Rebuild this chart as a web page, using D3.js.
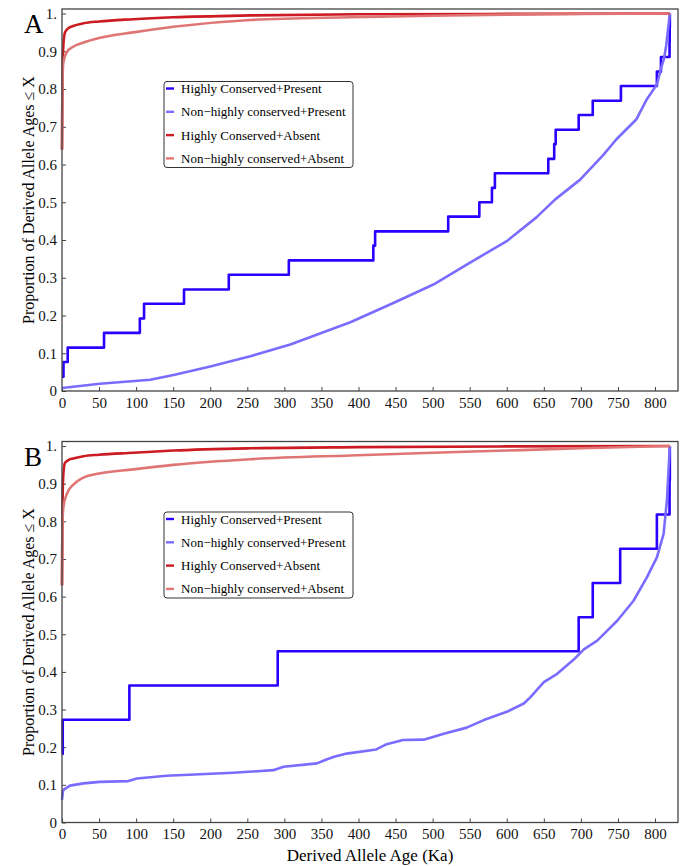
<!DOCTYPE html>
<html>
<head>
<meta charset="utf-8">
<script src="https://d3js.org/d3.v7.min.js"></script>
<style>
  body { margin: 0; background: #fff; }
  svg { font-family: "Liberation Serif", "Times New Roman", serif; }
</style>
</head>
<body>
<svg id="drawing_region"></svg>
<script>
// ---- data ----
const seriesNames = ["Highly Conserved+Present", "Non\u2212highly conserved+Present",
                     "Highly Conserved+Absent", "Non\u2212highly conserved+Absent"];
const xTicks = [0, 50, 100, 150, 200, 250, 300, 350, 400, 450, 500, 550, 600, 650, 700, 750, 800];
const yTicks = [0, 0.1, 0.2, 0.3, 0.4, 0.5, 0.6, 0.7, 0.8, 0.9, 1.0];

// panel A
const hcPresentA_x = [0, 2, 7.7, 56.7, 105, 110.7, 164.6, 225, 306, 420, 422.4, 521, 563, 580, 584,
                      656, 664, 666, 697, 716, 754, 802.5, 808, 819.6, 819.8, 820];
const hcPresentA_y = [0.038, 0.077, 0.115, 0.154, 0.192, 0.231, 0.269, 0.308, 0.346, 0.385, 0.423,
                      0.462, 0.5, 0.538, 0.577, 0.615, 0.654, 0.692, 0.731, 0.769, 0.808, 0.846,
                      0.885, 0.923, 0.962, 1.0];
const nhPresentA_x = [0, 51, 119, 152, 200, 254, 308, 389, 447, 501, 546, 600, 640, 665, 699, 730,
                      748, 775, 789, 802.5, 809, 812, 815, 820];
const nhPresentA_y = [0.008, 0.019, 0.030, 0.043, 0.065, 0.092, 0.123, 0.182, 0.233, 0.282, 0.335,
                      0.397, 0.46, 0.507, 0.56, 0.625, 0.667, 0.72, 0.773, 0.812, 0.861, 0.879,
                      0.914, 1.0];
const hcAbsentA_x = [0, 0.5, 1, 2, 4, 8, 15, 29, 50, 96, 150, 254, 400, 600, 820];
const hcAbsentA_y = [0.64, 0.8, 0.87, 0.92, 0.95, 0.96, 0.967, 0.974, 0.979, 0.985, 0.99, 0.995,
                     0.998, 0.999, 1.0];
const nhAbsentA_x = [0, 0.5, 1.8, 6.3, 15, 29, 50, 96, 150, 254, 389, 500, 600, 700, 820];
const nhAbsentA_y = [0.64, 0.8, 0.87, 0.897, 0.912, 0.923, 0.935, 0.95, 0.965, 0.983, 0.99, 0.994,
                     0.997, 0.999, 1.0];

// panel B
const hcPresentB_x = [0, 1, 90.9, 291, 697, 716, 753, 802.5, 819.6, 820];
const hcPresentB_y = [0.182, 0.273, 0.364, 0.455, 0.545, 0.636, 0.727, 0.818, 0.909, 1.0];
const nhPresentB_x = [0, 1.5, 10.8, 29, 51, 89.5, 101, 141, 186, 231, 285, 299, 344, 355, 366, 384,
                      424, 438, 460, 488, 515, 546, 569, 600, 623, 632, 650, 668, 690, 704, 722,
                      749, 771, 789, 802.5, 811.5, 816, 820];
const nhPresentB_y = [0.06, 0.086, 0.098, 0.104, 0.108, 0.11, 0.117, 0.124, 0.128, 0.132, 0.139,
                      0.148, 0.157, 0.166, 0.174, 0.183, 0.194, 0.208, 0.219, 0.22, 0.236, 0.252,
                      0.272, 0.294, 0.316, 0.333, 0.373, 0.395, 0.432, 0.46, 0.483, 0.536, 0.589,
                      0.651, 0.704, 0.766, 0.854, 1.0];
const hcAbsentB_x = [0, 0.5, 1, 2, 4, 8, 15, 29, 50, 96, 150, 254, 400, 600, 820];
const hcAbsentB_y = [0.63, 0.8, 0.88, 0.93, 0.955, 0.962, 0.967, 0.973, 0.977, 0.982, 0.988, 0.994,
                     0.997, 0.999, 1.0];
const nhAbsentB_x = [0, 0.5, 1.8, 6.3, 15, 29, 50, 96, 150, 254, 389, 500, 600, 700, 820];
const nhAbsentB_y = [0.63, 0.78, 0.837, 0.872, 0.897, 0.916, 0.927, 0.938, 0.95, 0.965, 0.975,
                     0.982, 0.988, 0.994, 1.0];

const colors = ["#2a00ff", "#7a6cff", "#cc1b22", "#e07575"];

function zip(xs, ys) {
    return xs.map((x, i) => ({ x: x, y: ys[i] }));
}

const svg = d3.select('#drawing_region')
    .attr('width', 685)
    .attr('height', 866);

class CdfPanel {
    constructor(config, series) {
        this.config = config;
        this.series = series;
        this.init();
    }

    init() {
        let self = this;
        const c = self.config;

        self.xscale = d3.scaleLinear()
            .domain([0, 831])
            .range([c.left, c.right]);
        self.yscale = d3.scaleLinear()
            .domain([0, 1.012])
            .range([c.bottom, c.top]);

        self.g = svg.append('g');
    }

    render() {
        let self = this;
        const c = self.config;

        // axes, ticks point inward
        const xaxis = d3.axisBottom(self.xscale)
            .tickValues(xTicks)
            .tickSizeInner(-4)
            .tickSizeOuter(0)
            .tickPadding(6)
            .tickFormat(d3.format('d'));
        const yaxis = d3.axisLeft(self.yscale)
            .tickValues(yTicks)
            .tickSizeInner(-4)
            .tickSizeOuter(0)
            .tickPadding(5)
            .tickFormat(d => d === 0 ? '0' : (d === 1 ? '1.' : d3.format('.1f')(d)));

        const xg = self.g.append('g')
            .attr('transform', `translate(0, ${c.bottom})`)
            .call(xaxis);
        const yg = self.g.append('g')
            .attr('transform', `translate(${c.left}, 0)`)
            .call(yaxis);
        [xg, yg].forEach(g => {
            g.select('.domain').remove();
            g.selectAll('text').attr('font-size', 15).attr('fill', '#111')
                .attr('font-family', '"Liberation Serif", serif');
            g.selectAll('line').attr('stroke', '#444');
        });

        // lines
        self.g.append('g')
            .selectAll('path')
            .data(self.series)
            .join('path')
            .attr('fill', 'none')
            .attr('stroke', (d, i) => colors[i])
            .attr('stroke-width', 2.6)
            .attr('stroke-linejoin', 'round')
            .attr('d', (d, i) => {
                const line = d3.line()
                    .x(p => self.xscale(p.x))
                    .y(p => self.yscale(p.y))
                    .curve(i === 0 ? d3.curveStepAfter : (i === 1 ? d3.curveLinear : d3.curveMonotoneX));
                return line(d);
            });

        // frame
        self.g.append('rect')
            .attr('x', c.left)
            .attr('y', c.top)
            .attr('width', c.right - c.left)
            .attr('height', c.bottom - c.top)
            .attr('fill', 'none')
            .attr('stroke', '#444')
            .attr('stroke-width', 1.3);

        // panel letter
        self.g.append('text')
            .attr('x', 24)
            .attr('y', c.top + 24)
            .attr('font-size', 27)
            .text(c.letter);

        // y label
        self.g.append('text')
            .attr('transform', `translate(34, ${(c.top + c.bottom) / 2}) rotate(-90)`)
            .attr('text-anchor', 'middle')
            .attr('font-size', 16)
            .text('Proportion of Derived Allele Ages \u2264 X');

        // legend
        const lg = self.g.append('g');
        lg.append('rect')
            .attr('x', 164)
            .attr('y', c.legendTop)
            .attr('width', 189)
            .attr('height', 86)
            .attr('rx', 3)
            .attr('fill', '#fff')
            .attr('stroke', '#333')
            .attr('stroke-width', 1);
        seriesNames.forEach((name, i) => {
            const yy = c.legendTop + 7 + i * 23.3;
            lg.append('line')
                .attr('x1', 166).attr('x2', 174)
                .attr('y1', yy).attr('y2', yy)
                .attr('stroke', colors[i])
                .attr('stroke-width', 2.4);
            lg.append('text')
                .attr('x', 181)
                .attr('y', yy + 4.5)
                .attr('font-size', 13)
                .text(name);
        });
    }
}

const panelA = new CdfPanel(
    { left: 62, right: 678, top: 9, bottom: 391, legendTop: 81.5, letter: 'A' },
    [zip(hcPresentA_x, hcPresentA_y), zip(nhPresentA_x, nhPresentA_y),
     zip(hcAbsentA_x, hcAbsentA_y), zip(nhAbsentA_x, nhAbsentA_y)]);
panelA.render();

const panelB = new CdfPanel(
    { left: 62, right: 678, top: 441.5, bottom: 822.5, legendTop: 512, letter: 'B' },
    [zip(hcPresentB_x, hcPresentB_y), zip(nhPresentB_x, nhPresentB_y),
     zip(hcAbsentB_x, hcAbsentB_y), zip(nhAbsentB_x, nhAbsentB_y)]);
panelB.render();

// x label
svg.append('text')
    .attr('x', 370)
    .attr('y', 861)
    .attr('text-anchor', 'middle')
    .attr('font-size', 17)
    .text('Derived Allele Age (Ka)');
</script>
</body>
</html>
